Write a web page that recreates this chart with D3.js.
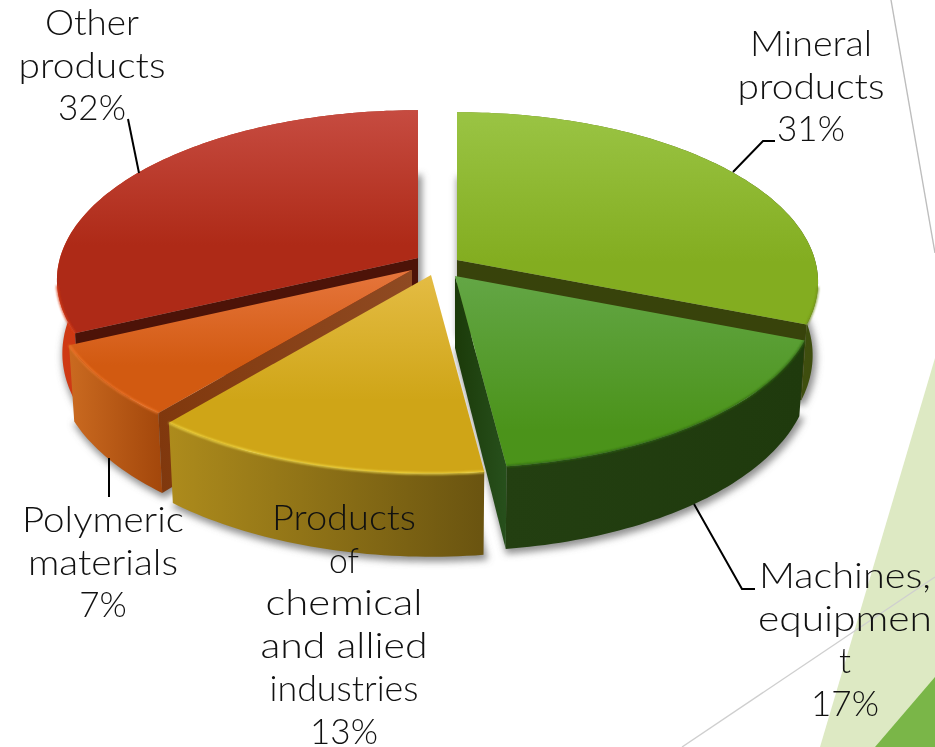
<!DOCTYPE html>
<html><head><meta charset="utf-8">
<script src="https://cdn.jsdelivr.net/npm/d3@7/dist/d3.min.js"></script>
<style>html,body{margin:0;padding:0;background:#fff}svg{display:block}</style>
</head><body><svg id="c" width="935" height="747"></svg>
<script>
const categories = ["Mineral products","Machines, equipment","Products of chemical and allied industries","Polymeric materials","Other products"];
const values = [31,17,13,7,32];

const labelLines = [["Mineral","products","31%"],["Machines,","equipmen","t","17%"],["Products","of","chemical","and allied","industries","13%"],["Polymeric","materials","7%"],["Other","products","32%"]];
const labelWidths = [[122,147,0],[172,174,0,0],[144,30,157,167,149,0],[162,150,0],[94,147,0]];
const labelCx = [811,845,344,103,92];
const labelTop = [56,588,530,532,35];
const leaders = [[[733,172],[763,141],[775,141]],[[694,504],[742,589],[755,589]],[],[[109,458],[109,497]],[[128,119],[139,173]]];
const apexX = [457,455,431,412,418];
const apexY = [260,276,275,270,258];
const sliceScale = [1,1,1.03,1,1];
const topGrad = [["#9ac444","#83ad20",112,262],["#63a645","#4b931a",278,430],["#e3bb42","#cfa517",280,400],["#e5743a","#d25a11",275,365],["#c64b40","#ae2a17",112,245]];
const wallGrad = [["#6f8c1a","#3d4c0e"],["#233f11","#1f3a0d"],["#ad8b1c","#6a5410"],["#ca6a20","#a3470b"],["#d03a14","#a22a18"]];
const cutGrad = [["#38430b","#38430b"],["#27501c","#1b3a09"],["#000","#000"],["#8f4a22","#80380d"],["#4d1308","#4d1308"]];
const rimColor = ["#6f8f18","#2f6414","#f6e04c","#f27a2e","#d83c16"];

const R = 358, Ry = 167, persp = 0.13, depth = 72, shrink = 0.015;
const svg = d3.select("#c");
const defs = svg.append("defs");
const blur = (id,s)=>defs.append("filter").attr("id",id).attr("x","-20%").attr("y","-20%").attr("width","140%").attr("height","140%")
  .append("feGaussianBlur").attr("stdDeviation",s);
blur("sh",3.5); blur("rim",0.9);

// background decoration
svg.append("polygon").attr("points","935,358 820,747 935,747").attr("fill","#dde9c3");
svg.append("polygon").attr("points","875,747 935,677 935,747").attr("fill","#7ab648");
svg.append("line").attr("x1",891).attr("y1",0).attr("x2",935).attr("y2",253).attr("stroke","#bdbdbd").attr("stroke-width",1.4);
svg.append("line").attr("x1",682).attr("y1",747).attr("x2",935).attr("y2",577).attr("stroke","#cfcfcf").attr("stroke-width",1.4);

const pie = d3.pie().sort(null).value(d=>d);
const arcs = pie(values).map((a,i)=>({...a,i}));
const perspScale = d3.scaleLinear().domain([-1,1]).range([1-persp,1+persp]);
const project = (cx,cy,u,v,z)=>{
  const s = 1/perspScale(v);
  return [cx + R*u*s*(1-shrink*z), cy - Ry*v*s + depth*s*z];
};
const line = d3.line();
const pt = (i,th,r,z)=>project(apexX[i],apexY[i],r*sliceScale[i]*Math.sin(th),r*sliceScale[i]*Math.cos(th),z);
const arcPts = (d,z)=>{
  const n = Math.max(8,Math.ceil((d.endAngle-d.startAngle)/0.02));
  return d3.range(n+1).map(k=>pt(d.i,d.startAngle+(d.endAngle-d.startAngle)*k/n,1,z));
};
const centre = (d,z)=>pt(d.i,0,0,z);

// gradients
arcs.forEach(d=>{
  const i=d.i;
  const g=defs.append("linearGradient").attr("id","top"+i).attr("gradientUnits","userSpaceOnUse")
    .attr("x1",0).attr("x2",0).attr("y1",topGrad[i][2]).attr("y2",topGrad[i][3]);
  g.append("stop").attr("offset",0).attr("stop-color",topGrad[i][0]);
  g.append("stop").attr("offset",1).attr("stop-color",topGrad[i][1]);
  const w=defs.append("linearGradient").attr("id","wall"+i).attr("x1",0).attr("x2",1).attr("y1",0).attr("y2",0);
  w.append("stop").attr("offset",0).attr("stop-color",wallGrad[i][0]);
  w.append("stop").attr("offset",1).attr("stop-color",wallGrad[i][1]);
  const c=defs.append("linearGradient").attr("id","cut"+i).attr("x1",1).attr("x2",0).attr("y1",0).attr("y2",0);
  c.append("stop").attr("offset",0).attr("stop-color",cutGrad[i][0]);
  c.append("stop").attr("offset",1).attr("stop-color",cutGrad[i][1]);
});

// soft shadow beneath all slices
svg.append("g").attr("filter","url(#sh)").selectAll("path").data(arcs).join("path")
  .attr("d",d=>line([centre(d,1),...arcPts(d,1),centre(d,1)])+"Z")
  .attr("transform","translate(2,3)")
  .attr("fill","#6e6e6e").attr("stroke","#6e6e6e").attr("stroke-width",4).attr("opacity",0.75);

// back to front
const midCos = d=>Math.cos((d.startAngle+d.endAngle)/2);
const ordered = arcs.slice().sort((a,b)=>midCos(b)-midCos(a));
const slice = svg.append("g").selectAll("g").data(ordered).join("g");

// outer walls
slice.append("path")
  .attr("d",d=>line([...arcPts(d,0),...arcPts(d,1).reverse()])+"Z")
  .attr("fill",d=>`url(#wall${d.i})`);
// radial cut walls that face the viewer
const cutWall = (d,th)=>line([pt(d.i,th,1,0),pt(d.i,th,1,1),centre(d,1),centre(d,0)])+"Z";
slice.filter(d=>d.startAngle>Math.PI).append("path")
  .attr("d",d=>cutWall(d,d.startAngle)).attr("fill",d=>`url(#cut${d.i})`);
slice.filter(d=>Math.sin(d.endAngle)>0).append("path")
  .attr("d",d=>cutWall(d,d.endAngle)).attr("fill",d=>`url(#cut${d.i})`);
// top faces
slice.append("path")
  .attr("d",d=>line([centre(d,0),...arcPts(d,0)])+"Z")
  .attr("fill",d=>`url(#top${d.i})`);
// bevelled rim: only on the lower, viewer-facing part
slice.append("path")
  .attr("d",d=>line(arcPts(d,0).filter(p=>p[1]>apexY[d.i]+25)))
  .attr("fill","none").attr("stroke",d=>rimColor[d.i]).attr("stroke-width",1.8).attr("filter","url(#rim)");

// leader lines
svg.append("g").selectAll("path").data(leaders.filter(l=>l.length)).join("path")
  .attr("d",d=>line(d)).attr("fill","none").attr("stroke","#000").attr("stroke-width",2);

// labels
const lab = svg.append("g").attr("font-family","'Lato','Open Sans',sans-serif").attr("font-weight",300)
  .attr("font-size",35).attr("fill","#111").attr("text-anchor","middle");
labelLines.forEach((ls,i)=>ls.forEach((t,k)=>{
  const el = lab.append("text").attr("x",labelCx[i]).attr("y",labelTop[i]+k*42.7).text(t);
  if(labelWidths[i][k]) el.attr("textLength",labelWidths[i][k]).attr("lengthAdjust","spacingAndGlyphs");
}));
</script></body></html>
